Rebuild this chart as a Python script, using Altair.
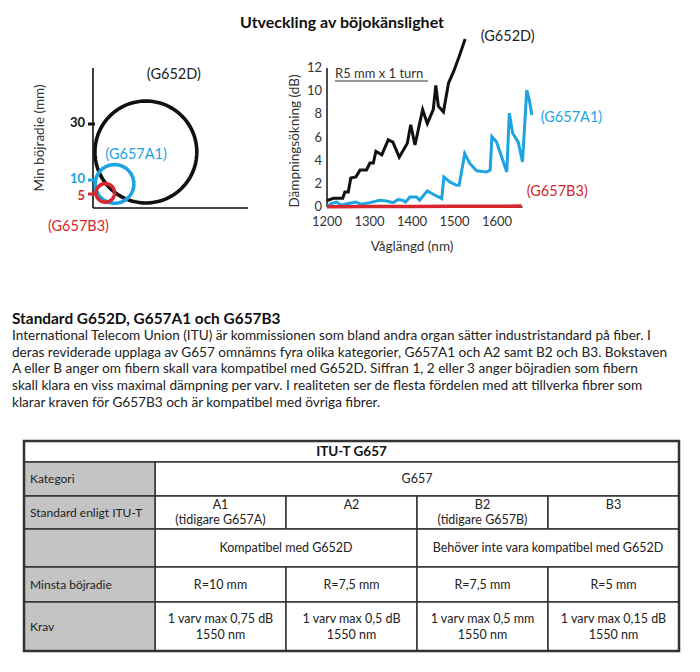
import altair as alt
import numpy as np
import pandas as pd

FONT = "Lato"
BLACK = "#111111"
BLUE = "#1ea4e0"
RED = "#d8262c"
TXT = "#222222"

# ---------------- data ----------------
fibers = ["G652D", "G657A1", "G657B3"]

# circle diagram (mm)
circle_cx = [18.9, 7.7, 4.4]
circle_cy = [20.0, 8.6, 5.4]
circle_r = [18.2, 6.9, 3.3]
radius_ticks = [30, 10, 5]
radius_labels = ["30", "10", "5"]

# bend loss curves (nm, dB)
wl_g652d = [1200, 1215, 1237, 1242, 1250, 1256, 1268, 1278, 1293, 1301, 1309, 1315, 1329,
            1344, 1355, 1370, 1389, 1397, 1407, 1425, 1436, 1450, 1456, 1462, 1474, 1486,
            1498, 1511, 1525]
db_g652d = [0.55, 0.75, 0.75, 1.3, 1.3, 2.5, 2.6, 3.2, 3.2, 3.8, 3.8, 4.8, 4.5,
            5.8, 5.6, 4.3, 5.5, 7.1, 5.35, 8.4, 7.2, 8.4, 10.5, 8.7, 8.2, 10.7,
            11.7, 13.0, 14.5]
wl_g657a1 = [1200, 1210, 1222, 1234, 1250, 1268, 1281, 1301, 1324, 1340, 1356, 1367, 1378,
             1385, 1395, 1411, 1418, 1436, 1450, 1470, 1475, 1489, 1505, 1511, 1524, 1536,
             1552, 1576, 1584, 1588, 1599, 1623, 1629, 1637, 1650, 1660, 1670, 1676, 1682]
db_g657a1 = [0.05, 0.3, 0.43, 0.15, 0.3, 0.43, 0.23, 0.38, 0.58, 0.52, 0.38, 0.64, 0.58,
             0.43, 0.87, 0.87, 0.58, 1.39, 1.1, 0.72, 2.6, 2.17, 1.88, 1.88, 4.6, 3.76,
             3.12, 3.03, 3.18, 6.07, 5.6, 3.03, 8.1, 6.36, 5.6, 3.9, 10.1, 9.25, 7.95]
wl_g657b3 = [1200, 1300, 1400, 1500, 1600, 1658]
db_g657b3 = [0.03, 0.04, 0.05, 0.06, 0.07, 0.08]
x_ticks = [1200, 1300, 1400, 1500, 1600]
y_ticks = [0, 2, 4, 6, 8, 10, 12]

chart_title = "Utveckling av böjokänslighet"
heading = "Standard G652D, G657A1 och G657B3"
body_lines = [
    "International Telecom Union (ITU) är kommissionen som bland andra organ sätter industristandard på fiber. I",
    "deras reviderade upplaga av G657 omnämns fyra olika kategorier, G657A1 och A2 samt B2 och B3. Bokstaven",
    "A eller B anger om fibern skall vara kompatibel med G652D. Siffran 1, 2 eller 3 anger böjradien som fibern",
    "skall klara en viss maximal dämpning per varv. I realiteten ser de flesta fördelen med att tillverka fibrer som",
    "klarar kraven för G657B3 och är kompatibel med övriga fibrer.",
]

table_title = "ITU-T G657"
row_labels = ["Kategori", "Standard enligt ITU-T", "", "Minsta böjradie", "Krav"]
kategori = ["G657"]
standards = ["A1\n(tidigare G657A)", "A2", "B2\n(tidigare G657B)", "B3"]
compat = ["Kompatibel med G652D", "Behöver inte vara kompatibel med G652D"]
min_radius = ["R=10 mm", "R=7,5 mm", "R=7,5 mm", "R=5 mm"]
krav = ["1 varv max 0,75 dB\n1550 nm", "1 varv max 0,5 dB\n1550 nm",
        "1 varv max 0,5 mm\n1550 nm", "1 varv max 0,15 dB\n1550 nm"]

# ---------------- styles / scales (pixel ranges place each panel) ----------------
line_col = {"G652D": BLACK, "G657A1": BLUE, "G657B3": RED}
label_col = {"G652D": "#222222", "G657A1": BLUE, "G657B3": RED}
AX = alt.Axis(labels=False, ticks=False, domain=False, grid=False, title="")
CX_SCALE = alt.Scale(domain=[0, 55.4], range=[85, 240], nice=False, zero=False)
CY_SCALE = alt.Scale(domain=[0, 50], range=[200, 60], nice=False, zero=False)
LX_SCALE = alt.Scale(domain=[1200, 1660], range=[319, 514.5], nice=False, zero=False)
LY_SCALE = alt.Scale(domain=[0, 12], range=[199, 60], nice=False, zero=False)
one = pd.DataFrame({"a": [0]})

# ---------------- circle diagram ----------------
ang = np.linspace(0, 2 * np.pi, 121)
circ_rows = []
for name, cx, cy, r in zip(fibers, circle_cx, circle_cy, circle_r):
    for i, a in enumerate(ang):
        circ_rows.append(dict(fiber=name, col=line_col[name], i=i,
                              x=cx + r * np.cos(a), y=cy + r * np.sin(a)))
circ_df = pd.DataFrame(circ_rows)

circles = alt.Chart(circ_df).mark_line(strokeWidth=3.6).encode(
    x=alt.X("x:Q", scale=CX_SCALE, axis=AX),
    y=alt.Y("y:Q", scale=CY_SCALE, axis=AX),
    color=alt.Color("col:N", scale=None),
    order="i:Q",
    detail="fiber:N",
)
c_yaxis = alt.Chart(one).mark_rule(color=BLACK, strokeWidth=1.6).encode(
    x=alt.datum(0, scale=CX_SCALE, axis=AX), y=alt.datum(0, scale=CY_SCALE, axis=AX),
    y2=alt.datum(50))
c_xaxis = alt.Chart(one).mark_rule(color=BLACK, strokeWidth=1.6).encode(
    x=alt.datum(0, scale=CX_SCALE, axis=AX), x2=alt.datum(55.4),
    y=alt.datum(0, scale=CY_SCALE, axis=AX))
tick_df = pd.DataFrame({"v": radius_ticks, "lab": radius_labels,
                        "col": [line_col[f] for f in fibers]})
c_ticks = alt.Chart(tick_df).mark_rule(strokeWidth=3).encode(
    y=alt.Y("v:Q", scale=CY_SCALE, axis=AX),
    x=alt.value(80), x2=alt.value(87),
    color=alt.Color("col:N", scale=None))

def ticklab_layer(cond, dy):
    return alt.Chart(tick_df).transform_filter(cond).mark_text(
        font=FONT, fontSize=13, fontWeight="bold", align="right", baseline="middle", dy=dy
    ).encode(
        y=alt.Y("v:Q", scale=CY_SCALE, axis=AX),
        x=alt.value(77), text="lab:N",
        color=alt.Color("col:N", scale=None))

c_ticklab_hi = ticklab_layer("datum.v >= 10", -1)
c_ticklab_lo = ticklab_layer("datum.v < 10", 1.5)
c_ytitle = alt.Chart(one).mark_text(
    font=FONT, fontSize=13.5, angle=270, color="#333333", align="center", baseline="middle",
    text="Min böjradie (mm)"
).encode(x=alt.value(32), y=alt.value(130))
c_lab_df = pd.DataFrame({"t": ["(G652D)", "(G657A1)", "(G657B3)"],
                         "col": [label_col[f] for f in fibers],
                         "lx": [28.9, 15.4, -5.2], "ly": [47.5, 18.9, -6.8]})
c_labels = alt.Chart(c_lab_df).mark_text(font=FONT, fontSize=14.5, align="center",
                                         baseline="middle").encode(
    x=alt.X("lx:Q", scale=CX_SCALE, axis=AX),
    y=alt.Y("ly:Q", scale=CY_SCALE, axis=AX),
    text="t:N",
    color=alt.Color("col:N", scale=None))

circle_chart = alt.layer(c_xaxis, c_yaxis, circles, c_ticks, c_ticklab_hi, c_ticklab_lo,
                         c_ytitle, c_labels)

# ---------------- bend loss line chart ----------------
def series(wl, db):
    return pd.DataFrame({"wl": wl, "db": db})

l_xaxis = alt.Chart(one).mark_rule(color=BLACK, strokeWidth=1.5).encode(
    x=alt.datum(1200, scale=LX_SCALE, axis=AX), x2=alt.datum(1660),
    y=alt.datum(0, scale=LY_SCALE, axis=AX))
l_yaxis = alt.Chart(one).mark_rule(color=BLACK, strokeWidth=1.5).encode(
    x=alt.datum(1200, scale=LX_SCALE, axis=AX), y=alt.datum(0, scale=LY_SCALE, axis=AX),
    y2=alt.datum(12))

def line_layer(df, color, width):
    return alt.Chart(df).mark_line(color=color, strokeWidth=width).encode(
        x=alt.X("wl:Q", scale=LX_SCALE, axis=AX),
        y=alt.Y("db:Q", scale=LY_SCALE, axis=AX))

line_d = line_layer(series(wl_g652d, db_g652d), BLACK, 3)
line_a = line_layer(series(wl_g657a1, db_g657a1), BLUE, 3)
line_b = line_layer(series(wl_g657b3, db_g657b3), RED, 3.5)

xlab = alt.Chart(pd.DataFrame({"v": x_ticks})).mark_text(
    font=FONT, fontSize=13, color="#333333", baseline="middle").encode(
    x=alt.X("v:Q", scale=LX_SCALE, axis=AX), y=alt.value(214), text="v:Q")
ylab = alt.Chart(pd.DataFrame({"v": y_ticks})).mark_text(
    font=FONT, fontSize=13, color="#333333", align="right", baseline="middle").encode(
    y=alt.Y("v:Q", scale=LY_SCALE, axis=AX), x=alt.value(314), text="v:Q")
l_xtitle = alt.Chart(one).mark_text(
    font=FONT, fontSize=13.5, color="#333333", text="Våglängd (nm)").encode(
    x=alt.value(404), y=alt.value(239))
l_ytitle = alt.Chart(one).mark_text(
    font=FONT, fontSize=13.5, color="#333333", angle=270, text="Dämpningsökning (dB)").encode(
    x=alt.value(287), y=alt.value(133))
r5 = alt.Chart(one).mark_text(
    font=FONT, fontSize=13, color="#333333", align="left", text="R5 mm x 1 turn").encode(
    x=alt.value(327), y=alt.value(66))
r5_line = alt.Chart(one).mark_rule(color="#333333", strokeWidth=1).encode(
    x=alt.value(327), x2=alt.value(420), y=alt.value(73))
l_lab_df = pd.DataFrame({"t": ["(G652D)", "(G657A1)", "(G657B3)"],
                         "col": [label_col[f] for f in fibers],
                         "lx": [1561.6, 1702.8, 1669.9], "ly": [14.68, 7.68, 1.3]})
l_labels = alt.Chart(l_lab_df).mark_text(font=FONT, fontSize=14.5, align="left",
                                         baseline="middle").encode(
    x=alt.X("lx:Q", scale=LX_SCALE, axis=AX),
    y=alt.Y("ly:Q", scale=LY_SCALE, axis=AX), text="t:N",
    color=alt.Color("col:N", scale=None))
title_txt = alt.Chart(one).mark_text(
    font=FONT, fontSize=16, fontWeight="bold", color=BLACK, text=chart_title).encode(
    x=alt.value(334), y=alt.value(15))

line_chart = alt.layer(l_xaxis, l_yaxis, line_d, line_a, line_b, xlab, ylab,
                       l_xtitle, l_ytitle, r5, r5_line, l_labels, title_txt)

# ---------------- paragraph ----------------
para_df = pd.DataFrame({"k": list(range(len(body_lines) + 1)),
                        "t": [heading] + body_lines,
                        "bold": [1] + [0] * len(body_lines)})
PY_SCALE = alt.Scale(domain=[0, 5], range=[311, 395], nice=False, zero=False)
para_head = alt.Chart(para_df).transform_filter("datum.bold == 1").mark_text(
    font=FONT, fontSize=15.4, fontWeight="bold", color=BLACK, align="left", baseline="middle"
).encode(x=alt.value(4), y=alt.Y("k:Q", scale=PY_SCALE, axis=AX), text="t:N")
para_body = alt.Chart(para_df).transform_filter("datum.bold == 0").mark_text(
    font=FONT, fontSize=13.6, color=TXT, align="left", baseline="middle"
).encode(x=alt.value(4), y=alt.Y("k:Q", scale=PY_SCALE, axis=AX), text="t:N")
para_chart = alt.layer(para_head, para_body)

# ---------------- table ----------------
row_edges = [0, 21, 55, 88, 126, 161, 210]
row_content = {1: (kategori, [(1, 5)]),
               2: (standards, [(1, 2), (2, 3), (3, 4), (4, 5)]),
               3: (compat, [(1, 3), (3, 5)]),
               4: (min_radius, [(1, 2), (2, 3), (3, 4), (4, 5)]),
               5: (krav, [(1, 2), (2, 3), (3, 4), (4, 5)])}
cell_rows, text_rows = [], []
cell_rows.append(dict(c0=0, c1=5, r0=row_edges[0], r1=row_edges[1], grey=0))
for r in range(1, 6):
    top, bot = row_edges[r], row_edges[r + 1]
    cell_rows.append(dict(c0=0, c1=1, r0=top, r1=bot, grey=1))
    if row_labels[r - 1]:
        text_rows.append(dict(x=0, y=(top + bot) / 2, t=row_labels[r - 1], kind="label"))
    contents, spans = row_content[r]
    for txt, (c0, c1) in zip(contents, spans):
        cell_rows.append(dict(c0=c0, c1=c1, r0=top, r1=bot, grey=0))
        lines = txt.split("\n")
        n = len(lines)
        for k, ln in enumerate(lines):
            if r == 2:
                y = top + 9 + 15 * k
            else:
                y = (top + bot) / 2 + (k - (n - 1) / 2) * 16
            text_rows.append(dict(x=(c0 + c1) / 2, y=y, t=ln, kind="cell"))
cell_df = pd.DataFrame(cell_rows)
text_df = pd.DataFrame(text_rows)

TX_SCALE = alt.Scale(domain=[0, 5], range=[16, 671], nice=False, zero=False)
TY_SCALE = alt.Scale(domain=[0, 210], range=[433, 643], nice=False, zero=False)

def cell_layer(grey, color):
    return alt.Chart(cell_df).transform_filter(f"datum.grey == {grey}").mark_rect(
        stroke="#333333", strokeWidth=1.5, fill=color).encode(
        x=alt.X("c0:Q", scale=TX_SCALE, axis=AX), x2="c1:Q",
        y=alt.Y("r0:Q", scale=TY_SCALE, axis=AX), y2="r1:Q")

t_white = cell_layer(0, "#ffffff")
t_grey = cell_layer(1, "#c4c4c4")
t_border = alt.Chart(one).mark_rect(
    fillOpacity=0, stroke="#333333", strokeWidth=2.5).encode(
    x=alt.datum(0, scale=TX_SCALE, axis=AX), x2=alt.datum(5),
    y=alt.datum(0, scale=TY_SCALE, axis=AX), y2=alt.datum(210))
t_title = alt.Chart(one).mark_text(
    font=FONT, fontSize=13.5, fontWeight="bold", color=BLACK, baseline="middle",
    text=table_title).encode(
    x=alt.datum(2.5, scale=TX_SCALE, axis=AX), y=alt.datum(10.5, scale=TY_SCALE, axis=AX))
t_labels = alt.Chart(text_df).transform_filter("datum.kind == 'label'").mark_text(
    font=FONT, fontSize=12, color=TXT, align="left", baseline="middle", dx=6).encode(
    x=alt.X("x:Q", scale=TX_SCALE, axis=AX), y=alt.Y("y:Q", scale=TY_SCALE, axis=AX),
    text="t:N")
t_text = alt.Chart(text_df).transform_filter("datum.kind == 'cell'").mark_text(
    font=FONT, fontSize=12.5, color=TXT, align="center", baseline="middle").encode(
    x=alt.X("x:Q", scale=TX_SCALE, axis=AX), y=alt.Y("y:Q", scale=TY_SCALE, axis=AX),
    text="t:N")
table_chart = alt.layer(t_white, t_grey, t_border, t_title, t_labels, t_text)

chart = alt.layer(circle_chart, line_chart, para_chart, table_chart).resolve_scale(
    x="independent", y="independent"
).properties(
    width=684, height=656, padding=0,
    autosize=alt.AutoSizeParams(type="none"),
).configure_view(stroke=None)

chart.save("out.html", embed_options={"renderer": "svg", "actions": False})
